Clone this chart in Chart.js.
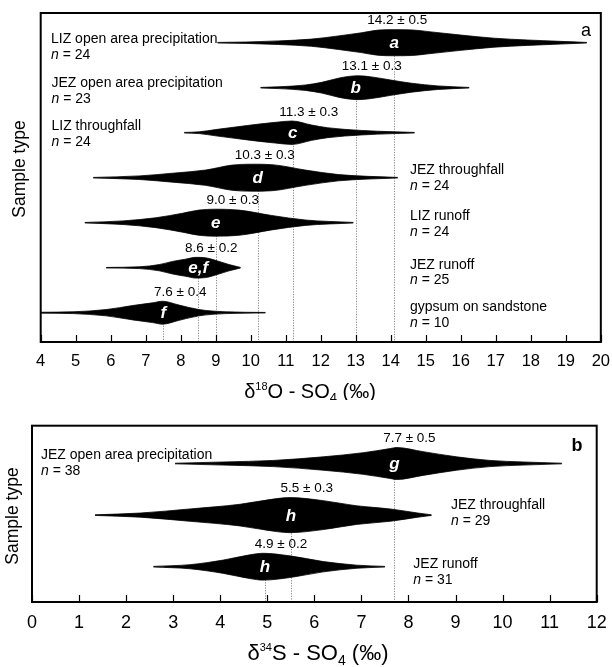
<!DOCTYPE html>
<html>
<head>
<meta charset="utf-8">
<script src="https://cdn.jsdelivr.net/npm/chart.js@4.4.1/dist/chart.umd.min.js"></script>
<style>
html,body{margin:0;padding:0;background:#fff;}
#wrap{position:relative;width:612px;height:667px;overflow:hidden;}
#ca{position:absolute;left:0;top:0;}
#cb{position:absolute;left:0;top:400px;}
</style>
</head>
<body>
<div id="wrap">
<canvas id="ca" width="612" height="400"></canvas>
<canvas id="cb" width="612" height="267"></canvas>
</div>
<script>
const FONT = "'Liberation Sans', Arial, Helvetica, sans-serif";

// ================= Panel a : d18O-SO4 =================
const categoriesA = ['LIZ open area precipitation','JEZ open area precipitation','LIZ throughfall','JEZ throughfall','LIZ runoff','JEZ runoff','gypsum on sandstone'];
const countsA = [24, 23, 24, 24, 24, 25, 10];
const meansA = [14.2, 13.1, 11.3, 10.3, 9.0, 8.6, 7.6];
const errorsA = [0.5, 0.3, 0.3, 0.3, 0.3, 0.2, 0.4];
const groupsA = ['a', 'b', 'c', 'd', 'e', 'e,f', 'f'];
const meanLinesA = [14.1, 13.0, 11.2, 10.2, 9.0, 8.5, 7.5];
const xTicksA = [4,5,6,7,8,9,10,11,12,13,14,15,16,17,18,19,20];

// violin outlines: x values and half-widths (fraction of row spacing)
const lizOpenX = [9.05, 9.85, 10.8, 11.74, 12.5, 13.16, 13.64, 14.1, 14.59, 15.15, 16.0, 16.95, 17.9, 18.84, 19.6];
const lizOpenW = [0.006, 0.015, 0.04, 0.08, 0.15, 0.22, 0.28, 0.29, 0.285, 0.24, 0.17, 0.10, 0.06, 0.03, 0.006];
const jezOpenX = [10.28, 10.8, 11.56, 12.03, 12.5, 12.79, 13.07, 13.45, 14.0, 14.59, 15.34, 16.24];
const jezOpenW = [0.006, 0.02, 0.06, 0.12, 0.21, 0.25, 0.265, 0.24, 0.17, 0.10, 0.04, 0.006];
const lizThroughX = [8.1, 8.53, 9.0, 9.9, 10.7, 11.18, 11.74, 12.2, 13.16, 14.1, 14.68];
const lizThroughW = [0.006, 0.02, 0.07, 0.16, 0.23, 0.26, 0.17, 0.11, 0.05, 0.02, 0.006];
const jezThroughX = [5.5, 6.82, 7.77, 8.71, 9.47, 10.04, 10.6, 11.56, 12.5, 13.35, 14.2];
const jezThroughW = [0.006, 0.04, 0.10, 0.17, 0.28, 0.30, 0.29, 0.17, 0.07, 0.03, 0.006];
const lizRunoffX = [5.26, 6.35, 7.29, 8.05, 8.52, 9.0, 9.66, 10.6, 11.56, 12.93];
const lizRunoffW = [0.006, 0.04, 0.11, 0.21, 0.28, 0.30, 0.28, 0.16, 0.06, 0.006];
const jezRunoffX = [5.87, 6.82, 7.39, 7.77, 8.14, 8.43, 8.71, 9.09, 9.38, 9.71];
const jezRunoffW = [0.006, 0.02, 0.07, 0.14, 0.19, 0.23, 0.22, 0.14, 0.07, 0.006];
const gypsumX = [4.0, 4.93, 5.87, 6.63, 7.2, 7.48, 7.95, 8.52, 9.28, 10.42];
const gypsumW = [0.01, 0.02, 0.07, 0.16, 0.22, 0.255, 0.17, 0.07, 0.02, 0.006];

// ================= Panel b : d34S-SO4 =================
const categoriesB = ['JEZ open area precipitation', 'JEZ throughfall', 'JEZ runoff'];
const countsB = [38, 29, 31];
const meansB = [7.7, 5.5, 4.9];
const errorsB = [0.5, 0.3, 0.2];
const groupsB = ['g', 'h', 'h'];
const meanLinesB = [7.7, 5.5, 4.95];
const xTicksB = [0,1,2,3,4,5,6,7,8,9,10,11,12];

const sOpenX = [3.04, 4.07, 5.13, 6.19, 7.04, 7.61, 7.75, 8.31, 9.02, 9.73, 10.44, 11.26];
const sOpenW = [0.006, 0.03, 0.06, 0.13, 0.21, 0.29, 0.31, 0.23, 0.13, 0.06, 0.03, 0.006];
const sThroughX = [1.34, 2.3, 3.36, 4.42, 5.2, 5.48, 6.19, 6.9, 7.61, 8.2, 8.49];
const sThroughW = [0.006, 0.04, 0.12, 0.21, 0.32, 0.34, 0.28, 0.18, 0.12, 0.04, 0.006];
const sRunoffX = [2.58, 3.36, 4.07, 4.63, 4.91, 5.48, 6.19, 6.9, 7.5];
const sRunoffW = [0.006, 0.04, 0.13, 0.23, 0.26, 0.21, 0.10, 0.03, 0.006];

const profilesA = [[lizOpenX, lizOpenW], [jezOpenX, jezOpenW], [lizThroughX, lizThroughW], [jezThroughX, jezThroughW], [lizRunoffX, lizRunoffW], [jezRunoffX, jezRunoffW], [gypsumX, gypsumW]];
const profilesB = [[sOpenX, sOpenW], [sThroughX, sThroughW], [sRunoffX, sRunoffW]];

// ---------- layout (style, not data) ----------
const layoutA = {
  canvasTop: 0,
  padding: {left: 40.7, right: 9, top: 13, bottom: 0},
  axisHeight: 58, tickFont: 16.5, tickPad: 2,
  yMin: -0.66, yMax: 6.651,
  labelPos: [[51, 39.5], [51.5, 83.5], [51.5, 126.5], [410, 170.5], [410, 216.5], [410, 265], [410, 307.5]],
  lineGap: 15.5,
  meanDx: [3, 16, 16, 7, 17, 13, 17],
  panelLetter: {t: 'a', x: 586, y: 31, font: '18px ' + FONT},
  xTitle: {cx: 310, base: 398, parts: [['δ', 20, 0], ['18', 11, -8], ['O - SO', 20, 0], ['4', 13, 4], [' (‰)', 20, 0]]},
  yTitle: {x: 20, y: 169, size: 17.5}
};
const layoutB = {
  canvasTop: 400,
  padding: {left: 32, right: 15.3, top: 25.7, bottom: 0},
  axisHeight: 65, tickFont: 18, tickPad: 2,
  yMin: -0.733, yMax: 2.684,
  labelPos: [[41, 455], [451, 505], [413.3, 564]],
  lineGap: 16.5,
  meanDx: [15, 16, 16],
  panelLetter: {t: 'b', x: 577, y: 446, font: 'bold 18px ' + FONT},
  xTitle: {cx: 318, base: 660, parts: [['δ', 22, 0], ['34', 11, -9], ['S - SO', 22, 0], ['4', 14, 5], [' (‰)', 22, 0]]},
  yTitle: {x: 13.5, y: 516, size: 17.5}
};

function buildDatasets(profiles) {
  const ds = [];
  profiles.forEach(([xs, ws], i) => {
    const common = {borderColor: '#000', backgroundColor: '#000', borderWidth: 0.8, pointRadius: 0,
                    cubicInterpolationMode: 'monotone'};
    ds.push(Object.assign({data: xs.map((v, k) => ({x: v, y: i - ws[k]})), fill: '+1'}, common));
    ds.push(Object.assign({data: xs.map((v, k) => ({x: v, y: i + ws[k]})), fill: false}, common));
  });
  return ds;
}

function drawRich(ctx, parts, cx, base) {
  let total = 0;
  parts.forEach(([t, s]) => { ctx.font = s + 'px ' + FONT; total += ctx.measureText(t).width; });
  let x = cx - total / 2;
  ctx.textAlign = 'left'; ctx.textBaseline = 'alphabetic'; ctx.fillStyle = '#000';
  parts.forEach(([t, s, dy]) => { ctx.font = s + 'px ' + FONT; ctx.fillText(t, x, base + dy); x += ctx.measureText(t).width; });
}

function makePlugin(L, cats, counts, means, errs, groups, lines, profiles) {
  return {
    id: 'annot',
    beforeDatasetsDraw(chart) {
      const ctx = chart.ctx, xs = chart.scales.x, ys = chart.scales.y, ca = chart.chartArea;
      ctx.save();
      ctx.strokeStyle = '#888'; ctx.lineWidth = 1; ctx.setLineDash([1.2, 1.4]);
      lines.forEach((v, i) => {
        const px = Math.round(xs.getPixelForValue(v)) + 0.5;
        ctx.beginPath(); ctx.moveTo(px, ys.getPixelForValue(i)); ctx.lineTo(px, ca.bottom); ctx.stroke();
      });
      ctx.restore();
    },
    afterDraw(chart) {
      const ctx = chart.ctx, xs = chart.scales.x, ys = chart.scales.y, ca = chart.chartArea;
      const off = L.canvasTop;
      const rowPx = ys.getPixelForValue(1) - ys.getPixelForValue(0);
      ctx.save();
      // frame
      ctx.strokeStyle = '#000'; ctx.lineWidth = 2; ctx.setLineDash([]);
      ctx.strokeRect(ca.left, ca.top, ca.right - ca.left, ca.bottom - ca.top);
      // inward ticks
      ctx.lineWidth = 1.2;
      xs.ticks.forEach(t => {
        const px = Math.round(xs.getPixelForValue(t.value)) + 0.5;
        ctx.beginPath(); ctx.moveTo(px, ca.bottom); ctx.lineTo(px, ca.bottom - 7); ctx.stroke();
      });
      // group letters and mean labels
      groups.forEach((g, i) => {
        const px = xs.getPixelForValue(lines[i]);
        const py = ys.getPixelForValue(i);
        ctx.fillStyle = '#fff'; ctx.font = 'italic bold 17px ' + FONT;
        ctx.textAlign = 'center'; ctx.textBaseline = 'middle';
        ctx.fillText(g, px, py + 1);
        const maxW = Math.max(...profiles[i][1]) * rowPx;
        ctx.fillStyle = '#000'; ctx.font = '13.5px ' + FONT;
        ctx.fillText(means[i].toFixed(1) + ' ± ' + errs[i].toFixed(1), px + L.meanDx[i], py - maxW - 9);
      });
      // sample labels
      ctx.textAlign = 'left'; ctx.textBaseline = 'middle'; ctx.fillStyle = '#000';
      cats.forEach((c, i) => {
        const [lx, ly] = L.labelPos[i];
        ctx.font = '14px ' + FONT;
        ctx.fillText(c, lx, ly - off);
        ctx.font = 'italic 14px ' + FONT;
        ctx.fillText('n', lx, ly - off + L.lineGap);
        const w = ctx.measureText('n').width;
        ctx.font = '14px ' + FONT;
        ctx.fillText(' = ' + counts[i], lx + w, ly - off + L.lineGap);
      });
      // panel letter
      const pl = L.panelLetter;
      ctx.font = pl.font; ctx.textAlign = 'center';
      ctx.fillText(pl.t, pl.x, pl.y - off);
      // x title
      drawRich(ctx, L.xTitle.parts, L.xTitle.cx, L.xTitle.base - off);
      // y title
      ctx.translate(L.yTitle.x, L.yTitle.y - off);
      ctx.rotate(-Math.PI / 2);
      ctx.font = L.yTitle.size + 'px ' + FONT; ctx.textAlign = 'center'; ctx.textBaseline = 'middle';
      ctx.fillText('Sample type', 0, 0);
      ctx.restore();
    }
  };
}

function makeChart(id, L, ticks, xmin, xmax, cats, counts, means, errs, groups, lines, profiles) {
  return new Chart(document.getElementById(id), {
    type: 'line',
    data: {datasets: buildDatasets(profiles)},
    options: {
      responsive: false, animation: false, devicePixelRatio: 1,
      layout: {padding: L.padding},
      plugins: {legend: {display: false}, tooltip: {enabled: false}},
      scales: {
        x: {
          type: 'linear', min: xmin, max: xmax,
          afterBuildTicks: s => { s.ticks = ticks.map(v => ({value: v})); },
          afterFit: s => { s.height = L.axisHeight; },
          ticks: {font: {family: FONT, size: L.tickFont}, color: '#000', padding: L.tickPad, autoSkip: false, maxRotation: 0,
                  callback: v => String(v)},
          grid: {display: false}, border: {display: false}
        },
        y: {type: 'linear', display: false, reverse: true, min: L.yMin, max: L.yMax}
      }
    },
    plugins: [makePlugin(L, cats, counts, means, errs, groups, lines, profiles)]
  });
}

makeChart('ca', layoutA, xTicksA, 4, 20, categoriesA, countsA, meansA, errorsA, groupsA, meanLinesA, profilesA);
makeChart('cb', layoutB, xTicksB, 0, 12, categoriesB, countsB, meansB, errorsB, groupsB, meanLinesB, profilesB);
</script>
</body>
</html>
